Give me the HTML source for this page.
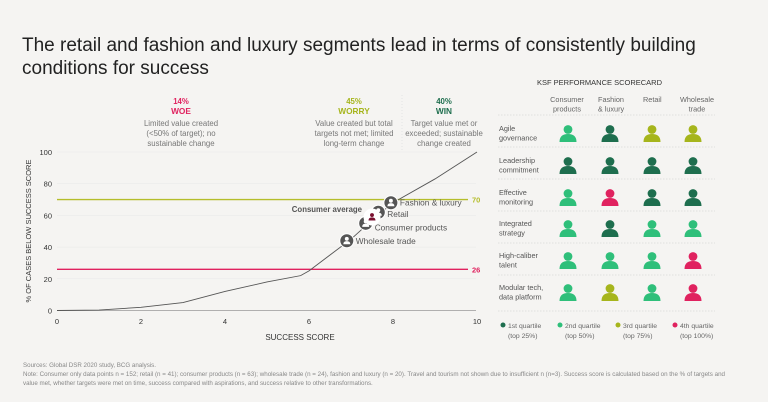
<!DOCTYPE html>
<html><head><meta charset="utf-8"><style>
body{margin:0;background:#f5f4f2;font-family:"Liberation Sans",sans-serif;}
svg{display:block}
</style></head><body>
<svg width="768" height="402" viewBox="0 0 768 402">
<rect width="768" height="402" fill="#f5f4f2"/>
<text x="22" y="51" font-size="19" fill="#222">The retail and fashion and luxury segments lead in terms of consistently building</text>
<text x="22" y="74" font-size="19" fill="#222">conditions for success</text>

<g font-size="7.8" text-anchor="middle">
<text x="181" y="104" fill="#e0225f" font-weight="bold">14%</text>
<text x="181" y="114" fill="#e0225f" font-weight="bold" font-size="8.3">WOE</text>
<text x="181" y="126" fill="#777">Limited value created</text>
<text x="181" y="136" fill="#777">(&lt;50% of target); no</text>
<text x="181" y="146" fill="#777">sustainable change</text>
<text x="354" y="104" fill="#a6b51c" font-weight="bold">45%</text>
<text x="354" y="114" fill="#a6b51c" font-weight="bold" font-size="8.3">WORRY</text>
<text x="354" y="126" fill="#777">Value created but total</text>
<text x="354" y="136" fill="#777">targets not met; limited</text>
<text x="354" y="146" fill="#777">long-term change</text>
<text x="444" y="104" fill="#1e6e4e" font-weight="bold">40%</text>
<text x="444" y="114" fill="#1e6e4e" font-weight="bold" font-size="8.3">WIN</text>
<text x="444" y="126" fill="#777">Target value met or</text>
<text x="444" y="136" fill="#777">exceeded; sustainable</text>
<text x="444" y="146" fill="#777">change created</text>
</g>
<line x1="402" y1="95" x2="402" y2="150" stroke="#e4e4e4" stroke-dasharray="1,2"/>

<g id="plot"></g>

<text x="300" y="340" font-size="8" fill="#333" text-anchor="middle">SUCCESS SCORE</text>
<text transform="translate(31,231) rotate(-90)" font-size="7.5" fill="#333" text-anchor="middle">% OF CASES BELOW SUCCESS SCORE</text>

<text x="537" y="85" font-size="7.5" fill="#333">KSF PERFORMANCE SCORECARD</text>
<g id="card"></g>

<g font-size="6.2" fill="#888">
<text x="23" y="367">Sources: Global DSR 2020 study, BCG analysis.</text>
<text x="23" y="376" textLength="702" lengthAdjust="spacingAndGlyphs">Note: Consumer only data points n = 152; retail (n = 41); consumer products (n = 63); wholesale trade (n = 24), fashion and luxury (n = 20). Travel and tourism not shown due to insufficient n (n=3). Success score is calculated based on the % of targets and</text>
<text x="23" y="385">value met, whether targets were met on time, success compared with aspirations, and success relative to other transformations.</text>
</g>
</svg>
<script>
const xTicks=[0,2,4,6,8,10];
const yTicks=[0,20,40,60,80,100];
const curveX=[0,1,2,3,4,5,5.8,6,6.5,7,7.5,8,9,10];
const curveY=[0,0.3,2,5,12,18,22,25,35,45,57,68,83,100];
const refValues=[70,26];
const refColors=['#b5bd2b','#e0225f'];
const segNames=['Wholesale trade','Consumer products','Retail','Fashion & luxury'];
const segX=[6.9,7.35,7.65,7.95];
const segY=[44,55,62,68];
const avgX=7.5, avgY=59;
const rows=['Agile|governance','Leadership|commitment','Effective|monitoring','Integrated|strategy','High-caliber|talent','Modular tech,|data platform'];
const cols=['Consumer|products','Fashion|& luxury','Retail','Wholesale|trade'];
const quart=[[2,1,3,3],[1,1,1,1],[2,4,1,1],[2,1,2,2],[2,2,2,4],[2,3,2,4]];
const qNames=['1st quartile|(top 25%)','2nd quartile|(top 50%)','3rd quartile|(top 75%)','4th quartile|(top 100%)'];
const qColors=['#1e6e4e','#2fbf7a','#a6b51c','#e0225f'];

const NS='http://www.w3.org/2000/svg';
function mk(t,a,p){const e=document.createElementNS(NS,t);for(const k in a)e.setAttribute(k,a[k]);p.appendChild(e);return e;}
const X=v=>57+v*42, Y=v=>310.5-v*1.585;
const plot=document.getElementById('plot');
yTicks.forEach(t=>{
  const l=mk('line',{x1:57,x2:476,y1:Y(t),y2:Y(t),stroke:t==0?'#999':'#e8e8e8','stroke-width':t==0?0.8:0.5},plot);
  
  const tx=mk('text',{x:52,y:Y(t)+3,'font-size':7.5,fill:'#333','text-anchor':'end'},plot);tx.textContent=t;
  
});
xTicks.forEach(t=>{
  const tx=mk('text',{x:X(t),y:324,'font-size':7.5,fill:'#333','text-anchor':'middle'},plot);tx.textContent=t;
  
});
refValues.forEach((v,i)=>{
  const l=mk('line',{x1:57,x2:468,y1:Y(v),y2:Y(v),stroke:refColors[i],'stroke-width':1.3},plot);
  
  const tx=mk('text',{x:472,y:Y(v)+3,'font-size':7.5,'font-weight':'bold',fill:refColors[i]},plot);tx.textContent=v;
  
});
let d='';curveX.forEach((x,i)=>{d+=(i?'L':'M')+X(x)+','+Y(curveY[i]);});
const cp=mk('path',{d:d,fill:'none',stroke:'#555','stroke-width':0.9},plot);

function person(g,cx,cy,r,bg,fg){
  mk('circle',{cx:cx,cy:cy,r:r,fill:bg,stroke:'#fff','stroke-width':1},g);
  mk('circle',{cx:cx,cy:cy-r*0.28,r:r*0.28,fill:fg},g);
  mk('path',{d:`M${cx-r*0.5},${cy+r*0.5}Q${cx-r*0.5},${cy+r*0.05} ${cx},${cy+r*0.05}Q${cx+r*0.5},${cy+r*0.05} ${cx+r*0.5},${cy+r*0.5}Z`,fill:fg},g);
}
segNames.forEach((n,i)=>{
  const g=mk('g',{},plot);
  
  person(g,X(segX[i]),Y(segY[i]),7,'#555','#fff');
  const tx=mk('text',{x:X(segX[i])+9,y:Y(segY[i])+(i==1?7:i==3?3:i==2?5:3),'font-size':8.3,fill:'#555'},plot);tx.textContent=n;
  
});
const ag=mk('g',{},plot);

mk('circle',{cx:X(avgX),cy:Y(avgY),r:8.5,fill:'#fff'},ag);
person(ag,X(avgX),Y(avgY),7,'#fff','#7a1030');
const at=mk('text',{x:X(avgX)-10,y:Y(avgY)-5,'font-size':7.8,'font-weight':'bold',fill:'#555','text-anchor':'end'},plot);at.textContent='Consumer average';


const card=document.getElementById('card');
const colX=[568,610,652,693], rowY=[133,165,197,228,260,292];
cols.forEach((c,i)=>{
  c.split('|').forEach((s,k)=>{const t=mk('text',{x:colX[i]-(i==2?9:i==1?-1:i==3?-4:1),y:102+k*9.5,'font-size':7.3,fill:'#666','text-anchor':i==2?'start':'middle'},card);t.textContent=s;
  });
});
[115,147,179,211,243,275,311].forEach(y=>{const l=mk('line',{x1:498,x2:715,y1:y,y2:y,stroke:'#ccc','stroke-width':0.6,'stroke-dasharray':'1.5,1.5'},card);
  });
rows.forEach((r,j)=>{
  r.split('|').forEach((s,k)=>{const t=mk('text',{x:499,y:rowY[j]-2+k*9.5,'font-size':7.3,fill:'#555'},card);t.textContent=s;
  });
  quart[j].forEach((q,i)=>{
    const g=mk('g',{fill:qColors[q-1]},card);
    
    const cx=colX[i],cy=rowY[j];
    mk('circle',{cx:cx,cy:cy-3.5,r:4.4},g);
    mk('path',{d:`M${cx-8.5},${cy+9}Q${cx-8.5},${cy+1} ${cx},${cy+1}Q${cx+8.5},${cy+1} ${cx+8.5},${cy+9}Z`},g);
  });
});
qNames.forEach((n,i)=>{
  const lx=[502,559,617,674][i];
  const c=mk('circle',{cx:lx+1,cy:325,r:2.5,fill:qColors[i]},card);
  
  n.split('|').forEach((s,k)=>{const t=mk('text',{x:lx+6,y:328+k*10,'font-size':6.8,fill:'#666'},card);t.textContent=s;
  });
});
</script>
</body></html>
